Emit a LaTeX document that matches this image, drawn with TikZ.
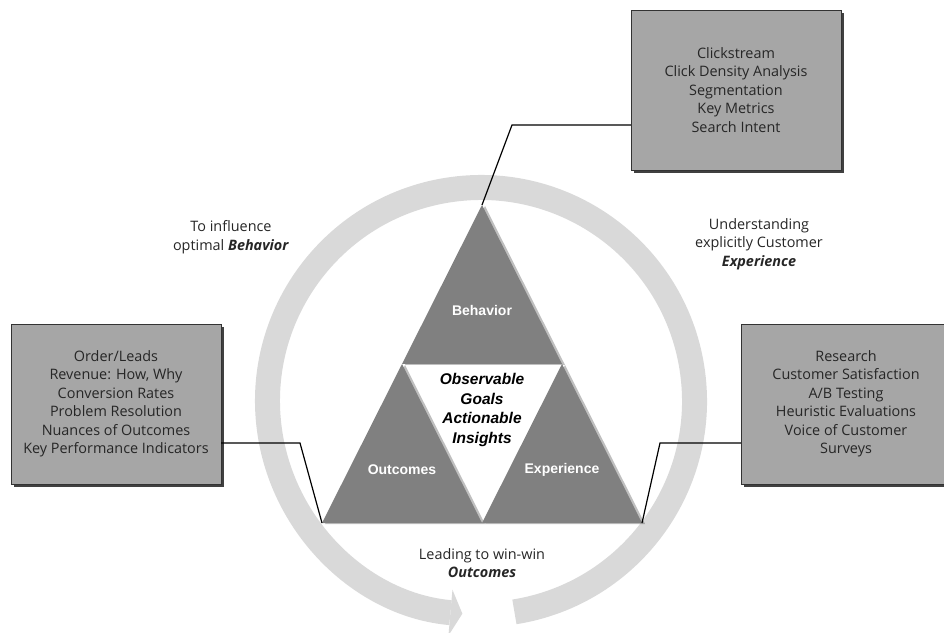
\documentclass[tikz,border=0pt]{standalone}
\usepackage{fontspec}
\setmainfont{Open Sans}
\newfontfamily\labelfont{Liberation Sans}
\usetikzlibrary{arrows.meta, shadows}

\definecolor{boxgray}{RGB}{166,166,166}
\definecolor{trigray}{RGB}{128,128,128}
\definecolor{ringgray}{RGB}{217,217,217}

\begin{document}
\begin{tikzpicture}[
    x=1pt, y=1pt,
    font=\fontsize{14.4}{18.5}\selectfont,
    listbox/.style={draw=black!80, fill=boxgray, text=black!85, align=center,
        minimum width=210pt, minimum height=160pt,
        drop shadow={shadow xshift=3pt, shadow yshift=-3pt, fill=black!75, opacity=1}},
    piece/.style={fill=trigray,
        drop shadow={shadow xshift=3pt, shadow yshift=-1pt, fill=black, opacity=0.25}},
    piecelabel/.style={text=white, font=\labelfont\bfseries\fontsize{14}{17}\selectfont},
    caption/.style={align=center, text=black!85},
    ring/.style={draw=ringgray, line width=25pt},
    link/.style={draw=black, line width=1.2pt}
]
\useasboundingbox (0,0) rectangle (944,632);

% Ring
\coordinate (c) at (481,231);
\draw[ring, -{Triangle[length=12pt, width=46pt, line width=0pt]}]
    ([shift={(-81:213.5)}]c) arc[start angle=-81, end angle=265, radius=213.5];

% Triangle
\coordinate (apex) at (482,427);
\coordinate (ml) at (402,268);
\coordinate (mr) at (562,268);
\coordinate (bl) at (322,109);
\coordinate (bm) at (482,109);
\coordinate (br) at (642,109);
\fill[piece] (apex) -- (ml) -- (mr) -- cycle;
\fill[piece] (ml) -- (bl) -- (bm) -- cycle;
\fill[piece] (mr) -- (bm) -- (br) -- cycle;

\node[piecelabel] (behavior) at (482,322) {Behavior};
\node[piecelabel] (outcomes) at (402,162) {Outcomes};
\node[piecelabel] (experience) at (562,162) {Experience};
\node[align=center, font=\labelfont\bfseries\itshape\fontsize{15.5}{19.5}\selectfont] (core) at (482,222)
    {Observable\\Goals\\Actionable\\Insights};

% Boxes
\node[listbox] (clicks) at (736,542)
    {Clickstream\\Click Density Analysis\\Segmentation\\Key Metrics\\Search Intent};
\node[listbox] (orders) at (116,228)
    {Order/Leads\\Revenue: How, Why\\Conversion Rates\\Problem Resolution\\Nuances of Outcomes\\Key Performance Indicators};
\node[listbox] (research) at (846,228)
    {Research\\Customer Satisfaction\\A/B Testing\\Heuristic Evaluations\\Voice of Customer\\Surveys};

% Captions
\node[caption] (influence) at (231,395) {To influence\\optimal \textbf{\textit{Behavior}}};
\node[caption] (understand) at (759,388) {Understanding\\explicitly Customer\\\textbf{\textit{Experience}}};
\node[caption] (winwin) at (482,69) {Leading to win-win\\\textbf{\textit{Outcomes}}};

% Edges
\coordinate (k1) at (512,507);
\coordinate (k2) at (300,189);
\coordinate (k3) at (660,189);
\draw[link] (clicks.west |- k1) -- (k1) -- (apex);
\draw[link] (orders.east |- k2) -- (k2) -- (bl);
\draw[link] (research.west |- k3) -- (k3) -- (br);

\end{tikzpicture}
\end{document}
